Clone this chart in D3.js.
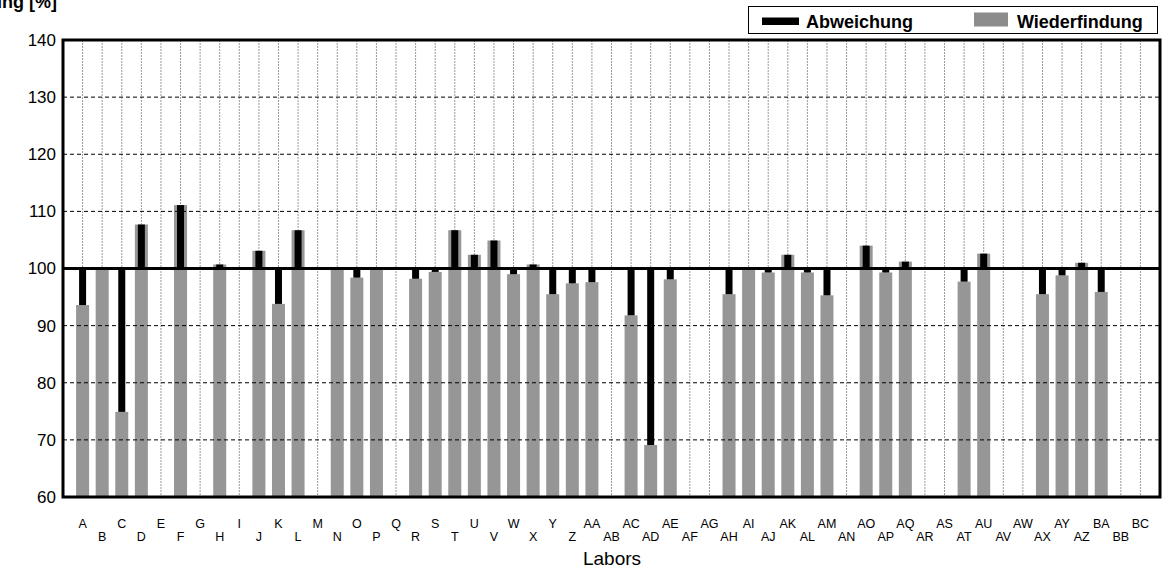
<!DOCTYPE html>
<html>
<head>
<meta charset="utf-8">
<script src="https://cdn.jsdelivr.net/npm/d3@7"></script>
<style>
  html, body { margin: 0; padding: 0; background: #fff; }
  svg { display: block; font-family: "Liberation Sans", Arial, Helvetica, sans-serif; }
</style>
</head>
<body>
<svg id="chart" width="1162" height="569"></svg>
<script>
// Laboratories A … BC
const labs = ["A","B","C","D","E","F","G","H","I","J","K","L","M","N","O","P","Q","R","S","T","U","V","W","X","Y","Z",
  "AA","AB","AC","AD","AE","AF","AG","AH","AI","AJ","AK","AL","AM","AN","AO","AP","AQ","AR","AS","AT","AU","AV","AW","AX","AY","AZ",
  "BA","BB","BC"];

// Recovery per laboratory in % (null = no result)
const recovery = [93.6, 99.9, 74.9, 107.7, null, 111.1, null, 100.7, null, 103.1, 93.8, 106.7, null, 99.9, 98.4, 99.9, null, 98.2,
  99.4, 106.7, 102.4, 104.9, 99.0, 100.7, 95.5, 97.4, 97.6, null, 91.8, 69.1, 98.1, null, null, 95.5, 99.9, 99.3,
  102.4, 99.3, 95.3, null, 104.0, 99.3, 101.2, null, null, 97.7, 102.6, null, null, 95.5, 98.8, 101.0, 95.9, null, null];

const target = 100;
const yTicks = [60, 70, 80, 90, 100, 110, 120, 130, 140];
const legendItems = ["Abweichung", "Wiederfindung"];

const svg = d3.select("#chart");
const plotL = 63, plotR = 1160, plotT = 40, plotB = 497;

const x = d3.scalePoint().domain(labs).range([plotL, plotR]).padding(1);
const y = d3.scaleLinear().domain([60, 140]).range([plotB, plotT]);

const data = labs.map((lab, i) => ({ lab, v: recovery[i], idx: i }));
const valid = data.filter(d => d.v !== null);

// vertical dotted grid at every laboratory
svg.append("g").selectAll("line").data(labs).join("line")
  .attr("x1", d => x(d)).attr("x2", d => x(d))
  .attr("y1", plotT).attr("y2", plotB)
  .attr("stroke", "#9a9a9a").attr("stroke-width", 1)
  .attr("stroke-dasharray", "2,1");

// recovery bars
const grayW = 13, blackW = 7;
svg.append("g").selectAll("rect").data(valid).join("rect")
  .attr("x", d => x(d.lab) - grayW / 2)
  .attr("width", grayW)
  .attr("y", d => y(d.v))
  .attr("height", d => y(60) - y(d.v))
  .attr("fill", "#969696");

// horizontal dashed grid
svg.append("g").selectAll("line").data(yTicks.filter(t => t !== 60 && t !== 140 && t !== target)).join("line")
  .attr("x1", plotL).attr("x2", plotR)
  .attr("y1", d => y(d)).attr("y2", d => y(d))
  .attr("stroke", "#000").attr("stroke-width", 1)
  .attr("stroke-dasharray", "4,3");

// deviation bars from the 100 % mark
svg.append("g").selectAll("rect").data(valid).join("rect")
  .attr("x", d => x(d.lab) - blackW / 2)
  .attr("width", blackW)
  .attr("y", d => Math.min(y(d.v), y(target)))
  .attr("height", d => Math.abs(y(d.v) - y(target)))
  .attr("fill", "#000");

// 100 % reference line
svg.append("line")
  .attr("x1", plotL).attr("x2", plotR)
  .attr("y1", y(target)).attr("y2", y(target))
  .attr("stroke", "#000").attr("stroke-width", 3);

// plot frame
svg.append("rect")
  .attr("x", plotL).attr("y", plotT)
  .attr("width", plotR - plotL).attr("height", plotB - plotT)
  .attr("fill", "none").attr("stroke", "#000").attr("stroke-width", 3);

// y tick labels
svg.append("g").selectAll("text").data(yTicks).join("text")
  .attr("x", 56).attr("y", d => y(d)).attr("dy", "0.35em")
  .attr("text-anchor", "end")
  .attr("font-size", 17)
  .text(d => d);

// x tick labels, staggered in two rows
svg.append("g").selectAll("text").data(data).join("text")
  .attr("x", d => x(d.lab))
  .attr("y", d => d.idx % 2 === 0 ? 527.5 : 541)
  .attr("text-anchor", "middle")
  .attr("font-size", 12.5)
  .text(d => d.lab);

// axis titles
svg.append("text")
  .attr("x", 612).attr("y", 565)
  .attr("text-anchor", "middle")
  .attr("font-size", 19)
  .text("Labors");

svg.append("text")
  .attr("x", 57).attr("y", 7.5)
  .attr("text-anchor", "end")
  .attr("font-size", 18).attr("font-weight", "bold")
  .text("Wiederfindung [%]");

// legend
const lg = svg.append("g");
lg.append("rect")
  .attr("x", 748.5).attr("y", 6.5).attr("width", 409).attr("height", 27)
  .attr("fill", "#fff").attr("stroke", "#000").attr("stroke-width", 1);
lg.append("rect").attr("x", 762).attr("y", 17.5).attr("width", 37).attr("height", 7.5).attr("fill", "#000");
lg.append("rect").attr("x", 974).attr("y", 12.5).attr("width", 34).attr("height", 14).attr("fill", "#8c8c8c");
lg.append("text").attr("x", 806).attr("y", 27.5).attr("font-size", 18).attr("font-weight", "bold").text(legendItems[0]);
lg.append("text").attr("x", 1017).attr("y", 27.5).attr("font-size", 18).attr("font-weight", "bold").text(legendItems[1]);
</script>
</body>
</html>
